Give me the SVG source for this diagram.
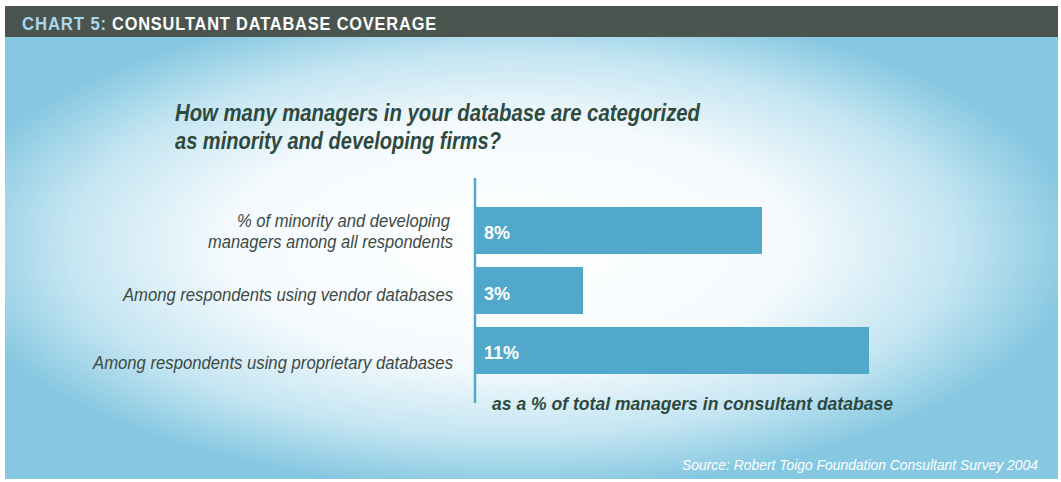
<svg xmlns="http://www.w3.org/2000/svg" width="1061" height="482" viewBox="0 0 1061 482">
<defs>
<radialGradient id="bg" cx="510" cy="245" r="570" gradientUnits="userSpaceOnUse" gradientTransform="translate(510 245) scale(1 0.43) translate(-510 -245)">
<stop offset="0" stop-color="#ffffff"/>
<stop offset="0.5" stop-color="#f4fafd"/>
<stop offset="0.78" stop-color="#c4e5f2"/>
<stop offset="1" stop-color="#86c8e1"/>
</radialGradient>
<style>
.hdr{font-family:"Liberation Sans Narrow","Liberation Sans",Arial,sans-serif;font-weight:bold;font-size:19px;letter-spacing:1px}
.q{font-family:"Liberation Sans Narrow","Liberation Sans",Arial,sans-serif;font-weight:bold;font-style:italic;font-size:24px;fill:#2e4a40}
.lbl{font-family:"Liberation Sans Narrow","Liberation Sans",Arial,sans-serif;font-style:italic;font-size:17.5px;fill:#3c4a46;text-anchor:end}
.bar{fill:#52a8ca}
.val{font-family:"Liberation Sans Narrow","Liberation Sans",Arial,sans-serif;font-weight:bold;font-size:17.5px;fill:#ffffff}
.ax{font-family:"Liberation Sans Narrow","Liberation Sans",Arial,sans-serif;font-weight:bold;font-style:italic;font-size:18px;fill:#2e4a40}
.src{font-family:"Liberation Sans Narrow","Liberation Sans",Arial,sans-serif;font-style:italic;font-size:14px;fill:#ffffff}
</style>
</defs>
<rect x="0" y="0" width="1061" height="482" fill="#ffffff"/>
<rect x="5" y="36" width="1053" height="443" fill="url(#bg)"/>
<g id="header">
<rect x="5" y="6" width="1053" height="31" fill="#4a5550"/>
<text class="hdr" x="22" y="29.5" fill="#a9d9ec" textLength="85" lengthAdjust="spacingAndGlyphs">CHART 5:</text>
<text class="hdr" x="112" y="29.5" fill="#ffffff" textLength="325" lengthAdjust="spacingAndGlyphs">CONSULTANT DATABASE COVERAGE</text>
</g>
<g id="question">
<text class="q" x="175" y="121" textLength="525" lengthAdjust="spacingAndGlyphs">How many managers in your database are categorized</text>
<text class="q" x="175" y="149" textLength="326" lengthAdjust="spacingAndGlyphs">as minority and developing firms?</text>
</g>
<g id="axis">
<line x1="475" y1="178" x2="475" y2="403" stroke="#52a8ca" stroke-width="2.5"/>
</g>
<g id="bar1">
<text class="lbl" x="450" y="227" textLength="213" lengthAdjust="spacingAndGlyphs">% of minority and developing</text>
<text class="lbl" x="453" y="248" textLength="245" lengthAdjust="spacingAndGlyphs">managers among all respondents</text>
<rect class="bar" x="475" y="207" width="287" height="47"/>
<text class="val" x="484" y="239" textLength="26" lengthAdjust="spacingAndGlyphs">8%</text>
</g>
<g id="bar2">
<text class="lbl" x="453" y="301" textLength="330" lengthAdjust="spacingAndGlyphs">Among respondents using vendor databases</text>
<rect class="bar" x="475" y="267" width="108" height="47"/>
<text class="val" x="484" y="300" textLength="26" lengthAdjust="spacingAndGlyphs">3%</text>
</g>
<g id="bar3">
<text class="lbl" x="453" y="369" textLength="360" lengthAdjust="spacingAndGlyphs">Among respondents using proprietary databases</text>
<rect class="bar" x="475" y="327" width="394" height="47"/>
<text class="val" x="484" y="359" textLength="35" lengthAdjust="spacingAndGlyphs">11%</text>
</g>
<g id="axis-label">
<text class="ax" x="492" y="410" textLength="401" lengthAdjust="spacingAndGlyphs">as a % of total managers in consultant database</text>
</g>
<g id="source">
<text class="src" x="682" y="470" textLength="356" lengthAdjust="spacingAndGlyphs">Source: Robert Toigo Foundation Consultant Survey 2004</text>
</g>
</svg>
